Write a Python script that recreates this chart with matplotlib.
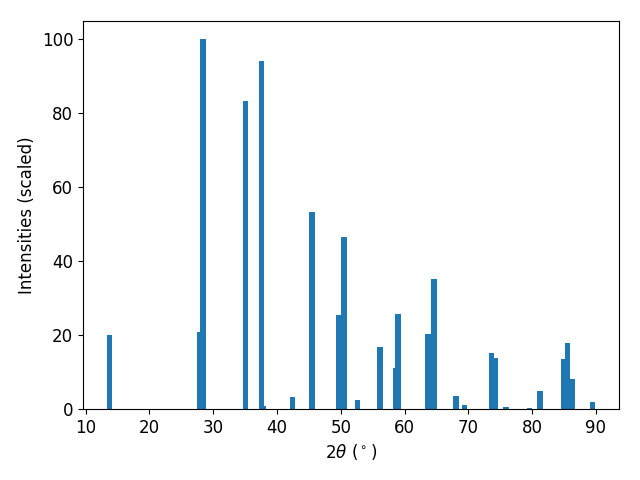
import matplotlib
matplotlib.use("Agg")
import matplotlib.pyplot as plt

two_theta = [13.80, 27.92, 28.40, 35.10, 37.56, 37.95, 42.42, 45.48, 49.72, 50.50,
             52.62, 56.15, 58.66, 58.97, 63.68, 64.62, 68.07, 69.33, 73.56, 74.19,
             75.91, 79.52, 81.11, 81.23, 84.85, 85.48, 86.27, 89.40]
intensities = [20.0, 20.9, 100.0, 83.3, 94.1, 0.8, 3.25, 53.2, 25.5, 46.6,
               2.44, 16.8, 11.1, 25.8, 20.3, 35.2, 3.5, 1.1, 15.2, 13.8,
               0.5, 0.3, 4.6, 4.9, 13.6, 17.9, 8.1, 1.9]

plt.rcParams['font.size'] = 12
fig, ax = plt.subplots(figsize=(6.4, 4.8), dpi=100)
ax.bar(two_theta, intensities, width=0.8, color='#1f77b4')
ax.set_xlabel(r"$2\theta$ ($^\circ$)")
ax.set_ylabel("Intensities (scaled)")
fig.subplots_adjust(left=83/640, right=619/640, top=1-21/480, bottom=1-409/480)
fig.savefig("out.png", dpi=100)
